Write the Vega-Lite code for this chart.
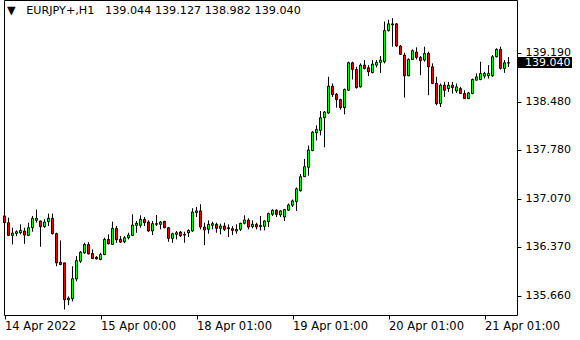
{
  "$schema": "https://vega.github.io/schema/vega-lite/v6.json",
  "width": 513,
  "height": 315,
  "padding": {"left": 3, "top": 0, "right": 0, "bottom": 0},
  "autosize": {"type": "pad"},
  "background": "white",
  "config": {"view": {"stroke": "black", "strokeWidth": 1}, "font": "DejaVu Sans", "scale": {"continuousPadding": 0}},
  "title": {"text": "▼\u00a0\u00a0\u00a0EURJPY+,H1\u00a0\u00a0\u00a0139.044 139.127 138.982 139.040", "anchor": "start", "frame": "group", "offset": -25, "baseline": "alphabetic", "fontSize": 11.2, "fontWeight": "normal", "font": "DejaVu Sans", "color": "black", "dx": 3},
  "datasets": {
    "candles": [
      {"i":0,"o":136.819,"h":136.843,"l":136.697,"c":136.721},
      {"i":1,"o":136.721,"h":136.794,"l":136.526,"c":136.536},
      {"i":2,"o":136.536,"h":136.648,"l":136.405,"c":136.570},
      {"i":3,"o":136.565,"h":136.609,"l":136.526,"c":136.590},
      {"i":4,"o":136.575,"h":136.697,"l":136.551,"c":136.609},
      {"i":5,"o":136.600,"h":136.648,"l":136.414,"c":136.541},
      {"i":6,"o":136.536,"h":136.721,"l":136.526,"c":136.648},
      {"i":7,"o":136.648,"h":136.819,"l":136.590,"c":136.785},
      {"i":8,"o":136.755,"h":136.911,"l":136.721,"c":136.785},
      {"i":9,"o":136.746,"h":136.750,"l":136.371,"c":136.663},
      {"i":10,"o":136.663,"h":136.770,"l":136.648,"c":136.731},
      {"i":11,"o":136.736,"h":136.853,"l":136.673,"c":136.785},
      {"i":12,"o":136.785,"h":136.853,"l":136.551,"c":136.561},
      {"i":13,"o":136.561,"h":136.575,"l":136.088,"c":136.137},
      {"i":14,"o":136.147,"h":136.463,"l":136.103,"c":136.113},
      {"i":15,"o":136.137,"h":136.137,"l":135.460,"c":135.601},
      {"i":16,"o":135.601,"h":135.650,"l":135.523,"c":135.626},
      {"i":17,"o":135.616,"h":136.088,"l":135.577,"c":135.908},
      {"i":18,"o":135.903,"h":136.234,"l":135.869,"c":136.171},
      {"i":19,"o":136.161,"h":136.307,"l":136.137,"c":136.293},
      {"i":20,"o":136.283,"h":136.429,"l":136.268,"c":136.405},
      {"i":21,"o":136.405,"h":136.439,"l":136.259,"c":136.268},
      {"i":22,"o":136.273,"h":136.332,"l":136.195,"c":136.200},
      {"i":23,"o":136.220,"h":136.234,"l":136.186,"c":136.195},
      {"i":24,"o":136.186,"h":136.283,"l":136.176,"c":136.259},
      {"i":25,"o":136.259,"h":136.502,"l":136.249,"c":136.478},
      {"i":26,"o":136.478,"h":136.551,"l":136.405,"c":136.414},
      {"i":27,"o":136.405,"h":136.736,"l":136.405,"c":136.639},
      {"i":28,"o":136.639,"h":136.673,"l":136.429,"c":136.473},
      {"i":29,"o":136.478,"h":136.526,"l":136.429,"c":136.439},
      {"i":30,"o":136.444,"h":136.526,"l":136.424,"c":136.502},
      {"i":31,"o":136.502,"h":136.575,"l":136.478,"c":136.541},
      {"i":32,"o":136.536,"h":136.843,"l":136.526,"c":136.687},
      {"i":33,"o":136.682,"h":136.746,"l":136.575,"c":136.712},
      {"i":34,"o":136.682,"h":136.828,"l":136.648,"c":136.770},
      {"i":35,"o":136.770,"h":136.804,"l":136.673,"c":136.721},
      {"i":36,"o":136.731,"h":136.755,"l":136.590,"c":136.600},
      {"i":37,"o":136.600,"h":136.746,"l":136.541,"c":136.707},
      {"i":38,"o":136.697,"h":136.833,"l":136.673,"c":136.707},
      {"i":39,"o":136.697,"h":136.746,"l":136.624,"c":136.731},
      {"i":40,"o":136.741,"h":136.746,"l":136.639,"c":136.648},
      {"i":41,"o":136.648,"h":136.658,"l":136.444,"c":136.492},
      {"i":42,"o":136.492,"h":136.575,"l":136.429,"c":136.561},
      {"i":43,"o":136.551,"h":136.600,"l":136.478,"c":136.575},
      {"i":44,"o":136.585,"h":136.600,"l":136.512,"c":136.531},
      {"i":45,"o":136.551,"h":136.590,"l":136.429,"c":136.541},
      {"i":46,"o":136.575,"h":136.624,"l":136.512,"c":136.609},
      {"i":47,"o":136.600,"h":136.931,"l":136.590,"c":136.877},
      {"i":48,"o":136.867,"h":136.950,"l":136.804,"c":136.892},
      {"i":49,"o":136.892,"h":136.989,"l":136.624,"c":136.658},
      {"i":50,"o":136.658,"h":136.721,"l":136.395,"c":136.614},
      {"i":51,"o":136.624,"h":136.755,"l":136.561,"c":136.697},
      {"i":52,"o":136.682,"h":136.736,"l":136.624,"c":136.707},
      {"i":53,"o":136.697,"h":136.721,"l":136.575,"c":136.639},
      {"i":54,"o":136.639,"h":136.707,"l":136.551,"c":136.673},
      {"i":55,"o":136.673,"h":136.721,"l":136.600,"c":136.624},
      {"i":56,"o":136.648,"h":136.697,"l":136.512,"c":136.634},
      {"i":57,"o":136.634,"h":136.673,"l":136.541,"c":136.609},
      {"i":58,"o":136.600,"h":136.697,"l":136.561,"c":136.624},
      {"i":59,"o":136.624,"h":136.721,"l":136.600,"c":136.712},
      {"i":60,"o":136.712,"h":136.828,"l":136.697,"c":136.760},
      {"i":61,"o":136.760,"h":136.785,"l":136.624,"c":136.658},
      {"i":62,"o":136.663,"h":136.755,"l":136.639,"c":136.697},
      {"i":63,"o":136.697,"h":136.721,"l":136.624,"c":136.658},
      {"i":64,"o":136.663,"h":136.819,"l":136.609,"c":136.682},
      {"i":65,"o":136.668,"h":136.755,"l":136.609,"c":136.746},
      {"i":66,"o":136.736,"h":136.867,"l":136.658,"c":136.853},
      {"i":67,"o":136.843,"h":136.916,"l":136.819,"c":136.902},
      {"i":68,"o":136.902,"h":136.916,"l":136.804,"c":136.843},
      {"i":69,"o":136.833,"h":136.902,"l":136.804,"c":136.892},
      {"i":70,"o":136.804,"h":136.921,"l":136.746,"c":136.911},
      {"i":71,"o":136.902,"h":136.999,"l":136.892,"c":136.979},
      {"i":72,"o":136.975,"h":137.058,"l":136.950,"c":137.038},
      {"i":73,"o":137.028,"h":137.233,"l":136.892,"c":137.213},
      {"i":74,"o":137.184,"h":137.428,"l":137.174,"c":137.389},
      {"i":75,"o":137.389,"h":137.647,"l":137.389,"c":137.535},
      {"i":76,"o":137.525,"h":137.842,"l":137.403,"c":137.778},
      {"i":77,"o":137.769,"h":138.051,"l":137.759,"c":138.036},
      {"i":78,"o":138.027,"h":138.134,"l":137.915,"c":138.075},
      {"i":79,"o":138.061,"h":138.343,"l":137.988,"c":138.246},
      {"i":80,"o":138.246,"h":138.343,"l":137.817,"c":138.329},
      {"i":81,"o":138.314,"h":138.840,"l":138.304,"c":138.704},
      {"i":82,"o":138.704,"h":138.743,"l":138.548,"c":138.582},
      {"i":83,"o":138.587,"h":138.606,"l":138.392,"c":138.509},
      {"i":84,"o":138.509,"h":138.523,"l":138.363,"c":138.392},
      {"i":85,"o":138.392,"h":138.670,"l":138.295,"c":138.655},
      {"i":86,"o":138.645,"h":139.059,"l":138.636,"c":139.045},
      {"i":87,"o":139.044,"h":139.059,"l":138.801,"c":138.947},
      {"i":88,"o":138.947,"h":138.986,"l":138.669,"c":138.684},
      {"i":89,"o":138.694,"h":139.035,"l":138.684,"c":139.010},
      {"i":90,"o":139.010,"h":139.083,"l":138.947,"c":138.962},
      {"i":91,"o":138.971,"h":139.010,"l":138.850,"c":138.913},
      {"i":92,"o":138.903,"h":139.083,"l":138.889,"c":139.025},
      {"i":93,"o":139.010,"h":139.083,"l":138.976,"c":139.049},
      {"i":94,"o":139.049,"h":139.142,"l":138.898,"c":139.083},
      {"i":95,"o":139.059,"h":139.643,"l":139.035,"c":139.512},
      {"i":96,"o":139.512,"h":139.668,"l":139.497,"c":139.609},
      {"i":97,"o":139.609,"h":139.692,"l":139.278,"c":139.595},
      {"i":98,"o":139.609,"h":139.619,"l":139.278,"c":139.288},
      {"i":99,"o":139.288,"h":139.303,"l":139.157,"c":139.166},
      {"i":100,"o":139.157,"h":139.190,"l":138.538,"c":138.855},
      {"i":101,"o":138.855,"h":139.108,"l":138.850,"c":139.093},
      {"i":102,"o":139.093,"h":139.239,"l":139.083,"c":139.220},
      {"i":103,"o":139.200,"h":139.268,"l":139.093,"c":139.122},
      {"i":104,"o":139.122,"h":139.142,"l":138.864,"c":139.074},
      {"i":105,"o":139.083,"h":139.278,"l":139.059,"c":139.181},
      {"i":106,"o":139.181,"h":139.205,"l":138.572,"c":138.986},
      {"i":107,"o":138.986,"h":139.035,"l":138.733,"c":138.743},
      {"i":108,"o":138.743,"h":138.840,"l":138.426,"c":138.450},
      {"i":109,"o":138.450,"h":138.743,"l":138.402,"c":138.718},
      {"i":110,"o":138.718,"h":138.767,"l":138.548,"c":138.645},
      {"i":111,"o":138.669,"h":138.767,"l":138.621,"c":138.718},
      {"i":112,"o":138.718,"h":138.767,"l":138.597,"c":138.684},
      {"i":113,"o":138.635,"h":138.743,"l":138.606,"c":138.694},
      {"i":114,"o":138.669,"h":138.694,"l":138.597,"c":138.597},
      {"i":115,"o":138.597,"h":138.645,"l":138.523,"c":138.523},
      {"i":116,"o":138.523,"h":138.621,"l":138.523,"c":138.606},
      {"i":117,"o":138.597,"h":138.815,"l":138.587,"c":138.801},
      {"i":118,"o":138.791,"h":138.889,"l":138.791,"c":138.840},
      {"i":119,"o":138.801,"h":139.059,"l":138.791,"c":138.889},
      {"i":120,"o":138.850,"h":138.913,"l":138.815,"c":138.889},
      {"i":121,"o":138.855,"h":139.010,"l":138.815,"c":138.889},
      {"i":122,"o":138.855,"h":139.157,"l":138.840,"c":139.132},
      {"i":123,"o":139.132,"h":139.254,"l":139.122,"c":139.239},
      {"i":124,"o":139.239,"h":139.278,"l":138.947,"c":138.962},
      {"i":125,"o":138.962,"h":139.083,"l":138.898,"c":139.044},
      {"i":126,"o":139.044,"h":139.127,"l":138.982,"c":139.040}
    ],
    "last": [{"p": 139.04, "t": "139.040"}]
  },
  "layer": [
    {
      "data": {"name": "candles"},
      "mark": {"type": "rule", "color": "black", "strokeWidth": 1},
      "encoding": {
        "x": {
          "field": "i", "type": "quantitative",
          "scale": {"domain": [-0.125, 128.125], "nice": false, "zero": false, "padding": 0},
          "axis": {
            "orient": "bottom", "values": [0, 24, 48, 72, 96, 120],
            "labelExpr": "datum.value == 0 ? '14 Apr 2022' : datum.value == 24 ? '15 Apr 00:00' : datum.value == 48 ? '18 Apr 01:00' : datum.value == 72 ? '19 Apr 01:00' : datum.value == 96 ? '20 Apr 01:00' : '21 Apr 01:00'",
            "domain": false, "grid": false, "ticks": true, "tickSize": 4, "tickColor": "black", "tickWidth": 1,
            "labelAlign": "left", "labelPadding": 1, "labelFontSize": 11.5, "labelFont": "DejaVu Sans",
            "labelColor": "black", "labelOverlap": false, "labelBound": false, "labelFlush": false, "title": null
          }
        },
        "y": {
          "field": "l", "type": "quantitative",
          "scale": {"domain": [135.38, 139.956], "nice": false, "zero": false, "padding": 0},
          "axis": {
            "orient": "right", "values": [135.66, 136.37, 137.07, 137.78, 138.48, 139.19], "format": ".3f",
            "domain": false, "grid": false, "tickSize": 4, "tickColor": "black", "tickWidth": 1,
            "labelPadding": 4, "labelFontSize": 11, "labelFont": "DejaVu Sans", "labelColor": "black",
            "labelOverlap": false, "labelBound": false, "labelFlush": false, "title": null
          }
        },
        "y2": {"field": "h"}
      }
    },
    {
      "data": {"name": "candles"},
      "mark": {"type": "bar", "orient": "vertical", "size": 2, "stroke": "black", "strokeWidth": 1},
      "encoding": {
        "x": {"field": "i", "type": "quantitative"},
        "y": {"field": "o", "type": "quantitative"},
        "y2": {"field": "c"},
        "fill": {"condition": {"test": "datum.c < datum.o", "value": "#f00000"}, "value": "#00ff00"}
      }
    },
    {
      "data": {"name": "last"},
      "mark": {"type": "rect", "color": "black", "xOffset": 1, "x2Offset": 55, "yOffset": -6, "y2Offset": 5},
      "encoding": {
        "x": {"value": "width"},
        "x2": {"value": "width"},
        "y": {"field": "p", "type": "quantitative"},
        "y2": {"field": "p"}
      }
    },
    {
      "data": {"name": "last"},
      "mark": {"type": "text", "align": "left", "baseline": "middle", "dx": 8, "fill": "white", "fontSize": 11, "font": "DejaVu Sans"},
      "encoding": {
        "x": {"value": "width"},
        "y": {"field": "p", "type": "quantitative"},
        "text": {"field": "t"}
      }
    }
  ]
}
